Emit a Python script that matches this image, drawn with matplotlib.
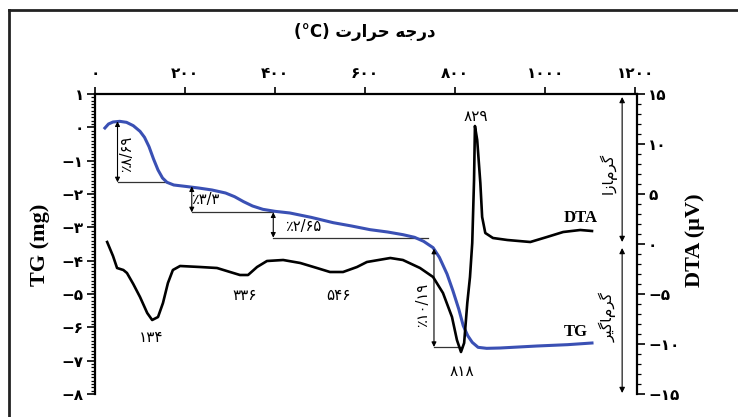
import matplotlib
matplotlib.use("Agg")
import matplotlib.pyplot as plt
from matplotlib.ticker import FixedLocator, FixedFormatter, MultipleLocator
from matplotlib.lines import Line2D

# ---------------- data ----------------
temp_ticks = [0, 200, 400, 600, 800, 1000, 1200]
temp_tick_labels = ["۰", "۲۰۰", "۴۰۰", "۶۰۰", "۸۰۰", "۱۰۰۰", "۱۲۰۰"]
tg_ticks = [1, 0, -1, -2, -3, -4, -5, -6, -7, -8]
tg_tick_labels = ["۱", "۰", "−۱", "−۲", "−۳", "−۴", "−۵", "−۶", "−۷", "−۸"]
dta_ticks = [15, 10, 5, 0, -5, -10, -15]
dta_tick_labels = ["۱۵", "۱۰", "۵", "۰", "−۵", "−۱۰", "−۱۵"]

tg_temp = [22, 30, 40, 55, 70, 85, 100, 110, 120, 130, 140, 150, 160, 175, 200,
           230, 260, 290, 310, 330, 350, 373, 400, 433, 480, 529, 570, 611, 650,
           684, 710, 730, 751, 765, 782, 795, 808, 818, 828, 838, 851, 870, 900,
           982, 1050, 1104]
tg_mass = [-0.02, 0.10, 0.16, 0.18, 0.15, 0.05, -0.12, -0.30, -0.58, -0.95,
           -1.28, -1.52, -1.65, -1.73, -1.77, -1.82, -1.88, -1.97, -2.08, -2.23,
           -2.36, -2.46, -2.52, -2.57, -2.70, -2.86, -2.96, -3.07, -3.14, -3.22,
           -3.30, -3.42, -3.61, -3.90, -4.40, -4.90, -5.45, -5.95, -6.25, -6.45,
           -6.60, -6.63, -6.62, -6.56, -6.52, -6.47]

dta_temp = [27, 40, 49, 56, 63, 71, 85, 100, 116, 127, 140, 151, 162, 173, 189,
            233, 271, 300, 322, 340, 360, 382, 418, 456, 493, 522, 551, 582, 604,
            656, 684, 722, 751, 773, 793, 804, 813, 820, 827, 833, 838, 842, 844,
            849, 856, 860, 867, 884, 916, 967, 1004, 1040, 1078, 1104]
dta_signal = [0.2, -1.2, -2.4, -2.5, -2.6, -2.9, -4.0, -5.3, -6.9, -7.6, -7.3,
              -5.9, -3.9, -2.6, -2.2, -2.3, -2.4, -2.8, -3.1, -3.1, -2.3, -1.7,
              -1.6, -1.9, -2.4, -2.8, -2.8, -2.3, -1.8, -1.4, -1.6, -2.4, -3.3,
              -4.9, -7.3, -9.6, -10.8, -9.9, -5.9, -3.3, 0.1, 6.4, 11.8, 10.4,
              6.1, 2.7, 1.1, 0.6, 0.4, 0.2, 0.7, 1.2, 1.4, 1.3]

# mass-loss steps (TG axis)
step_temp = [50, 215, 396, 753]
step_top = [0.18, -1.77, -2.55, -3.64]
step_bottom = [-1.65, -2.55, -3.31, -6.59]
step_line_end = [160, 396, 740, 815]
step_labels = ["٪۸/۶۹", "٪۳/۳", "٪۲/۶۵", "٪۱۰/۱۹"]
step_label_pos = [(71, -0.81), (244, -2.16), (462, -2.98), (727, -5.33)]
step_label_rot = [90, 0, 0, 90]

# DTA peak labels
peak_labels = ["۱۳۴", "۳۳۶", "۵۴۶", "۸۱۸", "۸۲۹"]
peak_label_pos = [(124, -9.3), (333, -5.1), (540, -5.1), (815, -12.8), (847, 12.7)]

# Persian words (pre-shaped presentation forms, visual order)
title_text = "(°C) " + "\uFE95\uFEAD\uFE8D\uFEAE\uFEA3" + " " + "\uFEEA\uFE9F\uFEAD\uFEA9"
exo_text = "\uFE8D\uFEAF\uFE8E\uFEE1\uFEAE\uFB94"            # گرمازا
endo_text = "\uFEAE\uFBFF\uFB94\uFE8E\uFEE1\uFEAE\uFB94"     # گرماگیر

# ---------------- figure ----------------
fig = plt.figure(figsize=(7.38, 4.17), dpi=100)
fig.patch.set_facecolor("white")
L, R, T, B = 95 / 738, 637 / 738, 1 - 94 / 417, 1 - 394 / 417
ax = fig.add_axes([L, B, R - L, T - B])
ax2 = ax.twinx()

ax.set_xlim(0, 1204)
ax.set_ylim(-8, 1)
ax2.set_ylim(-15, 15)

for s in ["bottom", "right"]:
    ax.spines[s].set_visible(False)
for s in ["bottom", "left", "top"]:
    ax2.spines[s].set_visible(False)
for sp in [ax.spines["top"], ax.spines["left"], ax2.spines["right"]]:
    sp.set_linewidth(1.6)

ax.xaxis.tick_top()
ax.xaxis.set_major_locator(FixedLocator(temp_ticks))
ax.xaxis.set_major_formatter(FixedFormatter(temp_tick_labels))
ax.tick_params(axis="x", direction="out", length=5, width=1.2, pad=4,
               labelsize=11)

ax.yaxis.set_major_locator(FixedLocator(tg_ticks))
ax.yaxis.set_major_formatter(FixedFormatter(tg_tick_labels))
ax.yaxis.set_minor_locator(MultipleLocator(0.1))
ax.tick_params(axis="y", which="major", direction="out", length=6, width=1.2,
               labelsize=11, pad=2)
ax.tick_params(axis="y", which="minor", direction="out", length=3, width=0.9)

ax2.yaxis.set_major_locator(FixedLocator(dta_ticks))
ax2.yaxis.set_major_formatter(FixedFormatter(dta_tick_labels))
ax2.yaxis.set_minor_locator(MultipleLocator(1))
ax2.tick_params(axis="y", which="major", direction="out", length=6, width=1.2,
                labelsize=11, pad=2)
ax2.tick_params(axis="y", which="minor", direction="out", length=3, width=0.9)

for lab in ax.get_xticklabels() + ax.get_yticklabels() + ax2.get_yticklabels():
    lab.set_fontweight("bold")

# curves
ax.plot(tg_temp, tg_mass, color="#3a50b4", lw=2.2, zorder=3)
ax2.plot(dta_temp, dta_signal, color="black", lw=1.9, zorder=3)

# mass-loss step annotations
for x, top, bot, end in zip(step_temp, step_top, step_bottom, step_line_end):
    ax.annotate("", xy=(x, bot), xytext=(x, top),
                arrowprops=dict(arrowstyle="<|-|>", color="black", lw=0.8,
                                mutation_scale=7, shrinkA=0, shrinkB=0))
    ax.plot([x, end], [bot, bot], color="#333333", lw=0.9)
for txt, (px, py), rot in zip(step_labels, step_label_pos, step_label_rot):
    ax.text(px, py, txt, rotation=rot, ha="center", va="center", fontsize=10.5)

# peak labels
for txt, (px, py) in zip(peak_labels, peak_label_pos):
    ax2.text(px, py, txt, ha="center", va="center", fontsize=11)

# curve names
ax2.text(1078, 2.6, "DTA", family="Liberation Serif", fontweight="bold",
         fontsize=12, ha="center", va="center")
ax.text(1067, -6.14, "TG", family="Liberation Serif", fontweight="bold",
        fontsize=12, ha="center", va="center")

# exo / endo arrows
ax2.annotate("", xy=(1171, 14.7), xytext=(1171, 0.2),
             arrowprops=dict(arrowstyle="<|-|>", color="black", lw=0.8,
                             mutation_scale=8, shrinkA=0, shrinkB=0))
ax2.annotate("", xy=(1171, -0.4), xytext=(1171, -14.9),
             arrowprops=dict(arrowstyle="<|-|>", color="black", lw=0.8,
                             mutation_scale=8, shrinkA=0, shrinkB=0))
ax2.text(1140, 7.1, exo_text, rotation=90, ha="center", va="center", fontsize=11)
ax2.text(1140, -7.3, endo_text, rotation=90, ha="center", va="center", fontsize=11)

# axis titles
fig.text(40 / 738, 1 - 245 / 417, "TG (mg)", rotation=90, family="Liberation Serif",
         fontweight="bold", fontsize=16, ha="center", va="center")
fig.text(695 / 738, 1 - 240 / 417, "DTA (µV)", rotation=90, family="Liberation Serif",
         fontweight="bold", fontsize=16, ha="center", va="center")
fig.text(365 / 738, 1 - 32 / 417, title_text, fontweight="bold", fontsize=12,
         ha="center", va="center")

# outer frame (top and left edges)
fig.add_artist(Line2D([9 / 738, 1], [1 - 10 / 417, 1 - 10 / 417],
                      transform=fig.transFigure, color="#222222", lw=2))
fig.add_artist(Line2D([9 / 738, 9 / 738], [0, 1 - 10 / 417],
                      transform=fig.transFigure, color="#222222", lw=2))

fig.savefig("out.png", dpi=100)
